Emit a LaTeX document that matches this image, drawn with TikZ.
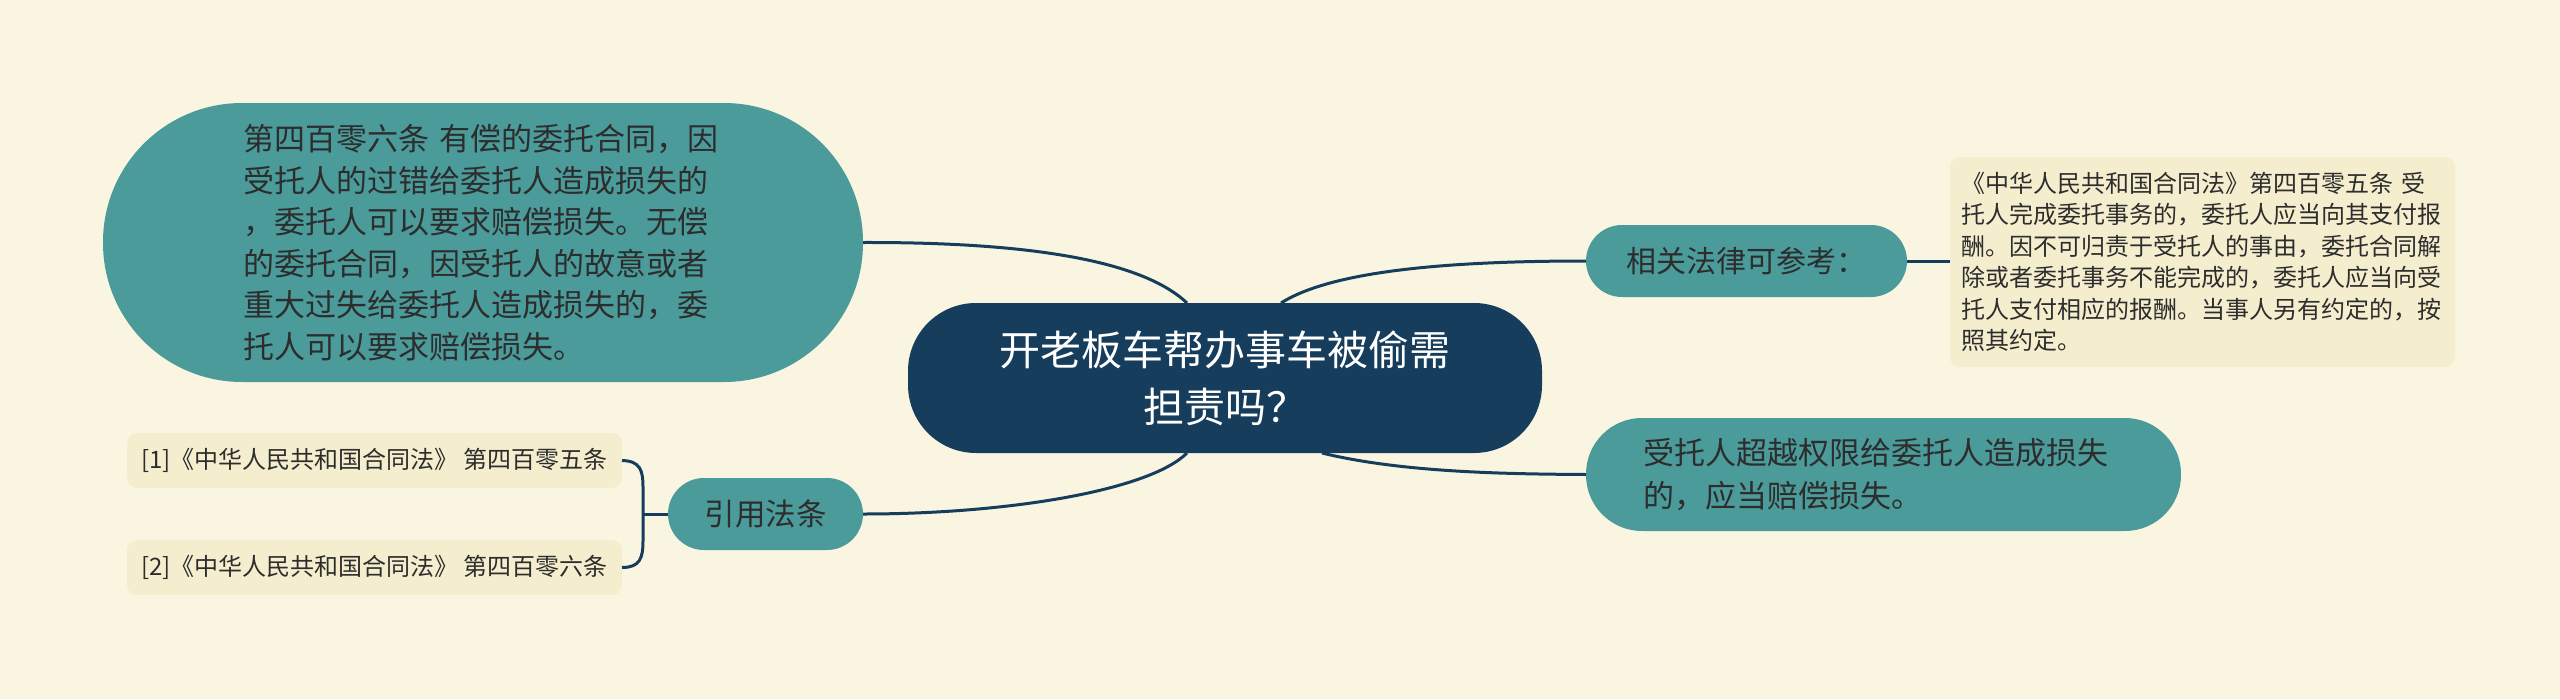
\documentclass[tikz,border=0pt]{standalone}
\usepackage{fontspec}
\setmainfont{Noto Sans CJK SC}
\definecolor{mmbg}{HTML}{FAF5E1}
\definecolor{mmteal}{HTML}{4B9B9B}
\definecolor{mmnavy}{HTML}{173D5C}
\definecolor{mmleaf}{HTML}{F5EECE}
\definecolor{mmtxt}{HTML}{2D2D2D}
\tikzset{
  base/.style={inner sep=0pt, outer sep=0pt, align=left},
  pill/.style={base, fill=mmteal, text=mmtxt},
  leafbox/.style={base, fill=mmleaf, text=mmtxt, rounded corners=10pt},
  conn/.style={draw=mmnavy, line width=3pt},
}
\begin{document}
\begin{tikzpicture}[x=1pt,y=-1pt]
\fill[mmbg] (0,0) rectangle (2560,699);
\useasboundingbox (0,0) rectangle (2560,699);

\node[base, fill=mmnavy, text=white, align=center, minimum width=634pt, minimum height=150pt,
  rounded corners=68pt, font={\fontsize{41}{57}\selectfont}] (c) at (1225,378)
  {开老板车帮办事车被偷需\\担责吗？};

\node[pill, minimum width=760pt, minimum height=279pt, rounded corners=139pt,
  text width=480pt, font={\fontsize{31}{41.5}\selectfont}] (big) at (483,242.5)
  {第四百零六条 有偿的委托合同，因\\受托人的过错给委托人造成损失的\\，委托人可以要求赔偿损失。无偿\\的委托合同，因受托人的故意或者\\重大过失给委托人造成损失的，委\\托人可以要求赔偿损失。};

\node[pill, align=center, minimum width=321pt, minimum height=72pt, rounded corners=36pt,
  font={\fontsize{30}{40}\selectfont}] (rel) at (1746.5,261) {相关法律可参考：};

\node[leafbox, minimum width=505pt, minimum height=210pt, text width=482pt,
  font={\fontsize{24}{31.5}\selectfont}] (box) at (2202.5,262)
  {《中华人民共和国合同法》第四百零五条 受\\托人完成委托事务的，委托人应当向其支付报\\酬。因不可归责于受托人的事由，委托合同解\\除或者委托事务不能完成的，委托人应当向受\\托人支付相应的报酬。当事人另有约定的，按\\照其约定。};

\node[pill, minimum width=595pt, minimum height=113pt, rounded corners=56pt,
  text width=480pt, font={\fontsize{31}{43}\selectfont}] (shou) at (1883.5,474.5)
  {受托人超越权限给委托人造成损失\\的，应当赔偿损失。};

\node[pill, align=center, minimum width=195pt, minimum height=72pt, rounded corners=36pt,
  font={\fontsize{30.5}{40}\selectfont}] (yin) at (765.5,514) {引用法条};

\node[leafbox, minimum width=495pt, minimum height=55pt,
  font={\fontsize{24}{30}\selectfont}] (l1) at (374.5,460.5)
  {[1]《中华人民共和国合同法》 第四百零五条};
\node[leafbox, minimum width=495pt, minimum height=55pt,
  font={\fontsize{24}{30}\selectfont}] (l2) at (374.5,567.5)
  {[2]《中华人民共和国合同法》 第四百零六条};

\draw[conn] (big.east) .. controls (1060,242) and (1150,268) .. ([xshift=-38pt]c.north);
\draw[conn] ([xshift=56pt]c.north) .. controls (1330,272) and (1440,261) .. (rel.west);
\draw[conn] ([xshift=-38pt]c.south) .. controls (1150,490) and (1010,514) .. (yin.east);
\draw[conn] ([xshift=97pt]c.south) .. controls (1400,472) and (1500,474) .. (shou.west);
\draw[conn] (rel.east) -- (rel.east -| box.west);

\coordinate (br) at (643,514);
\draw[conn] (yin.west) -- (br);
\draw[conn] (l1.east) .. controls (640,461) and (643,470) .. (643,487) -- (643,541)
  .. controls (643,558) and (640,567.5) .. (l2.east);
\end{tikzpicture}
\end{document}
